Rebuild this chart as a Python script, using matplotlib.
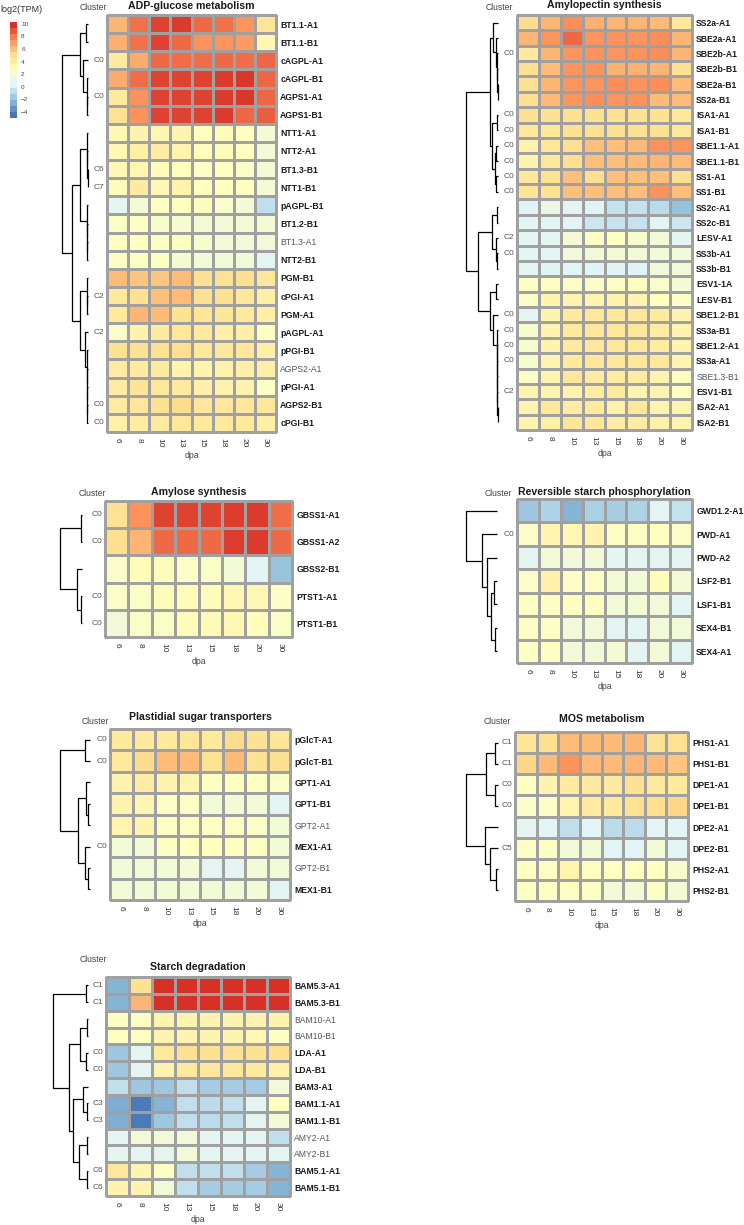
"""Starch metabolism gene expression heatmaps (log2 TPM) with row dendrograms."""

import numpy as np
import matplotlib
matplotlib.use("Agg")
import matplotlib.pyplot as plt
from matplotlib.colors import LinearSegmentedColormap, Normalize

plt.rcParams["font.family"] = ["Liberation Sans", "DejaVu Sans"]

W, H = 744, 1225
DPA = ["6", "8", "10", "13", "15", "18", "20", "30"]
VMIN, VMAX = -5.0, 10.3
CB_TICKS = [-4, -2, 0, 2, 4, 6, 8, 10]

# ---------------- ADP-glucose metabolism ----------------
ADP_GENES = ["BT1.1-A1", "BT1.1-B1", "cAGPL-A1", "cAGPL-B1", "AGPS1-A1", "AGPS1-B1",
             "NTT1-A1", "NTT2-A1", "BT1.3-B1", "NTT1-B1", "pAGPL-B1", "BT1.2-B1",
             "BT1.3-A1", "NTT2-B1", "PGM-B1", "cPGI-A1", "PGM-A1", "pAGPL-A1",
             "pPGI-B1", "AGPS2-A1", "pPGI-A1", "AGPS2-B1", "cPGI-B1"]
ADP_VALUES = [
    [6.5, 8.5, 9.8, 10.0, 8.7, 8.5, 7.5, 4.8],
    [6.7, 8.5, 9.8, 8.7, 7.6, 7.5, 7.3, 3.3],
    [4.3, 6.8, 8.7, 8.6, 8.6, 8.7, 8.6, 8.8],
    [6.8, 8.6, 9.8, 9.8, 9.8, 10.0, 10.1, 8.8],
    [4.5, 7.6, 9.8, 9.8, 9.8, 10.0, 10.1, 8.8],
    [5.0, 7.6, 9.8, 9.8, 9.8, 10.0, 8.8, 9.0],
    [3.2, 3.5, 3.4, 3.5, 2.8, 2.9, 2.7, 1.6],
    [3.2, 4.0, 4.2, 3.5, 2.8, 3.0, 2.7, 1.6],
    [3.2, 3.4, 3.0, 2.7, 2.5, 2.5, 2.3, 1.6],
    [3.0, 4.3, 3.3, 3.6, 2.7, 2.6, 2.6, 1.7],
    [0.5, 1.6, 2.5, 2.6, 2.8, 2.2, 1.7, -0.9],
    [2.3, 2.5, 2.0, 1.9, 1.7, 1.7, 1.7, 1.7],
    [2.5, 2.5, 2.5, 2.5, 2.0, 1.7, 1.5, 1.5],
    [2.4, 2.5, 2.5, 1.8, 1.6, 1.6, 1.5, 0.4],
    [6.3, 6.0, 6.0, 6.3, 5.0, 5.0, 5.2, 4.6],
    [4.5, 5.0, 6.2, 6.3, 5.0, 5.0, 4.6, 4.0],
    [4.5, 6.5, 6.3, 5.0, 4.8, 4.8, 4.5, 4.0],
    [2.2, 3.5, 4.3, 4.6, 4.4, 4.0, 4.0, 2.5],
    [5.0, 5.0, 5.0, 5.2, 4.6, 4.6, 4.6, 4.0],
    [4.3, 4.3, 4.3, 3.6, 3.6, 3.7, 4.0, 4.0],
    [4.2, 4.9, 4.6, 4.3, 3.8, 3.7, 3.7, 2.5],
    [4.3, 4.6, 5.0, 5.3, 4.6, 4.6, 4.6, 4.6],
    [3.8, 4.2, 4.3, 4.6, 4.5, 4.4, 4.5, 4.0],
]
ADP_CLUSTERS = {2: "C0", 4: "C0", 8: "C6", 9: "C7", 15: "C2", 17: "C2", 21: "C0", 22: "C0"}
ADP_PLAIN = ["BT1.3-A1", "AGPS2-A1"]
ADP_TREE = (((0, 1, 0.08), (2, (3, (4, 5, 0.02), 0.04), 0.2), 0.31),
            (((6, (7, (8, 9, 0.01), 0.02), 0.03), (10, (11, (12, 13, 0.02), 0.03), 0.05), 0.31),
             ((14, (15, 16, 0.02), 0.05),
              (17, (18, (19, (20, (21, 22, 0.02), 0.03), 0.04), 0.05), 0.12), 0.31), 0.62), 1.0)

# ---------------- Amylopectin synthesis ----------------
AMP_GENES = ["SS2a-A1", "SBE2a-A1", "SBE2b-A1", "SBE2b-B1", "SBE2a-B1", "SS2a-B1",
             "ISA1-A1", "ISA1-B1", "SBE1.1-A1", "SBE1.1-B1", "SS1-A1", "SS1-B1",
             "SS2c-A1", "SS2c-B1", "LESV-A1", "SS3b-A1", "SS3b-B1", "ESV1-1A",
             "LESV-B1", "SBE1.2-B1", "SS3a-B1", "SBE1.2-A1", "SS3a-A1", "SBE1.3-B1",
             "ESV1-B1", "ISA2-A1", "ISA2-B1"]
AMP_VALUES = [
    [5.3, 6.5, 7.7, 6.6, 6.5, 6.5, 6.3, 4.6],
    [6.5, 7.5, 8.8, 7.5, 7.6, 7.5, 7.7, 6.5],
    [4.3, 6.5, 7.5, 7.6, 7.5, 7.6, 7.7, 6.5],
    [5.2, 6.3, 7.5, 7.6, 6.6, 6.6, 6.5, 5.0],
    [5.0, 6.5, 7.5, 7.5, 7.7, 7.6, 7.7, 6.3],
    [5.2, 6.4, 7.5, 7.7, 7.5, 7.6, 6.3, 6.3],
    [5.0, 5.0, 5.2, 5.0, 5.0, 5.0, 5.0, 4.6],
    [4.6, 4.6, 5.0, 5.0, 5.0, 5.0, 5.0, 4.6],
    [3.7, 4.6, 5.2, 6.2, 6.2, 6.4, 7.6, 7.5],
    [3.5, 4.6, 5.2, 6.2, 6.2, 6.3, 6.5, 6.3],
    [4.6, 5.0, 6.2, 5.2, 6.2, 6.2, 6.2, 5.2],
    [4.8, 5.0, 6.2, 6.2, 6.2, 6.2, 7.6, 6.2],
    [0.2, 1.0, 0.3, 0.2, -0.8, -0.8, -1.1, -2.3],
    [0.3, 0.3, 0.3, -0.6, -0.7, -0.7, 0.3, -0.6],
    [0.4, 0.4, 1.7, 2.5, 2.6, 2.0, 1.5, 0.4],
    [0.3, 0.3, 1.5, 1.6, 1.6, 1.6, 1.6, 1.5],
    [0.4, 0.2, 0.3, 0.2, 0.2, 0.2, 1.5, 1.5],
    [2.5, 2.5, 2.3, 2.3, 2.5, 2.5, 2.2, 1.7],
    [2.3, 3.5, 3.5, 3.6, 3.6, 3.5, 2.7, 2.4],
    [0.4, 3.5, 4.5, 4.6, 4.6, 4.6, 4.5, 3.5],
    [2.0, 3.5, 4.5, 4.6, 4.6, 4.6, 4.2, 3.5],
    [2.0, 3.5, 4.5, 4.6, 4.6, 4.5, 4.2, 3.5],
    [2.0, 3.5, 4.5, 4.6, 4.6, 4.6, 4.6, 3.5],
    [2.3, 3.6, 4.6, 4.2, 4.2, 4.2, 3.5, 2.5],
    [3.5, 3.5, 3.5, 4.2, 4.5, 3.5, 3.5, 2.5],
    [3.5, 4.6, 4.2, 4.5, 3.8, 4.6, 3.6, 3.5],
    [3.6, 4.0, 4.7, 4.6, 4.2, 4.2, 3.8, 3.6],
]
AMP_CLUSTERS = {2: "C0", 6: "C0", 7: "C0", 8: "C0", 9: "C0", 10: "C0", 11: "C0",
                14: "C2", 15: "C0", 19: "C0", 20: "C0", 21: "C0", 22: "C0", 24: "C2"}
AMP_PLAIN = ["SBE1.3-B1"]
AMP_TREE = (((0, (1, (2, (3, (4, 5, 0.01), 0.02), 0.03), 0.06), 0.16),
             ((6, 7, 0.04), ((8, 9, 0.05), (10, 11, 0.05), 0.1), 0.19), 0.25),
            (((12, 13, 0.04), (14, (15, 16, 0.02), 0.06), 0.2),
             ((17, 18, 0.06),
              (19, (20, (21, (22, (23, (24, (25, 26, 0.01), 0.02), 0.02), 0.03), 0.03), 0.04), 0.15),
              0.25), 0.62), 1.0)

# ---------------- Amylose synthesis ----------------
AMY_GENES = ["GBSS1-A1", "GBSS1-A2", "GBSS2-B1", "PTST1-A1", "PTST1-B1"]
AMY_VALUES = [
    [5.0, 7.6, 9.8, 9.8, 9.8, 9.9, 10.0, 8.6],
    [5.2, 6.5, 8.7, 8.7, 8.7, 9.9, 10.0, 8.7],
    [2.2, 3.0, 2.9, 2.4, 2.3, 1.6, 0.3, -2.2],
    [2.3, 2.3, 2.9, 3.0, 3.0, 3.3, 3.3, 2.4],
    [1.5, 2.3, 2.3, 3.0, 3.1, 3.3, 2.8, 2.3],
]
AMY_CLUSTERS = {0: "C0", 1: "C0", 3: "C0", 4: "C0"}
AMY_PLAIN = []
AMY_TREE = ((0, 1, 0.04), (2, (3, 4, 0.04), 0.23), 1.0)

# ---------------- Reversible starch phosphorylation ----------------
RSP_GENES = ["GWD1.2-A1", "PWD-A1", "PWD-A2", "LSF2-B1", "LSF1-B1", "SEX4-B1", "SEX4-A1"]
RSP_VALUES = [
    [-2.0, -1.5, -2.8, -1.6, -1.7, -1.5, 0.3, -0.8],
    [2.2, 3.5, 3.3, 3.5, 2.5, 2.5, 2.6, 2.3],
    [0.4, 1.5, 1.5, 1.5, 0.5, 0.4, 0.4, 0.4],
    [2.2, 3.8, 2.4, 2.4, 1.6, 1.6, 3.0, 1.6],
    [2.5, 2.4, 2.5, 2.5, 1.6, 1.6, 1.5, 0.3],
    [2.4, 2.4, 1.5, 1.5, 0.4, 0.4, 1.5, 1.5],
    [2.4, 2.5, 1.5, 1.5, 1.7, 0.4, 1.6, 0.3],
]
RSP_CLUSTERS = {1: "C0"}
RSP_PLAIN = []
RSP_TREE = (0, (1, (2, ((3, 4, 0.1), (5, 6, 0.05), 0.2), 0.32), 0.48), 1.0)

# ---------------- Plastidial sugar transporters ----------------
PST_GENES = ["pGlcT-A1", "pGlcT-B1", "GPT1-A1", "GPT1-B1", "GPT2-A1", "MEX1-A1", "GPT2-B1", "MEX1-B1"]
PST_VALUES = [
    [4.5, 4.5, 4.5, 4.7, 4.5, 5.3, 5.0, 4.7],
    [4.5, 5.3, 6.3, 6.3, 5.0, 6.3, 5.0, 5.2],
    [3.5, 4.2, 3.5, 3.5, 2.5, 2.5, 2.5, 2.3],
    [3.5, 3.4, 2.4, 2.4, 1.6, 1.7, 1.6, 0.3],
    [3.6, 3.6, 2.5, 2.5, 2.5, 2.5, 2.3, 1.6],
    [1.6, 1.6, 2.5, 2.6, 2.6, 2.6, 2.5, 1.6],
    [1.6, 1.6, 1.6, 1.6, 0.4, 0.4, 1.6, 1.6],
    [1.6, 1.6, 1.6, 1.6, 1.6, 1.6, 1.6, 0.4],
]
PST_CLUSTERS = {0: "C0", 1: "C0", 5: "C0"}
PST_PLAIN = ["GPT2-A1", "GPT2-B1"]
PST_TREE = ((0, 1, 0.17), ((2, (3, 4, 0.07), 0.13), (5, (6, 7, 0.07), 0.17), 0.4), 1.0)

# ---------------- MOS metabolism ----------------
MOS_GENES = ["PHS1-A1", "PHS1-B1", "DPE1-A1", "DPE1-B1", "DPE2-A1", "DPE2-B1", "PHS2-A1", "PHS2-B1"]
MOS_VALUES = [
    [4.8, 5.2, 6.3, 6.3, 6.3, 6.5, 5.0, 5.0],
    [5.5, 6.4, 7.6, 6.4, 6.4, 6.5, 6.3, 6.0],
    [2.5, 3.5, 4.3, 4.3, 4.3, 5.0, 4.5, 4.5],
    [2.2, 2.4, 3.5, 4.3, 4.5, 5.0, 5.2, 5.5],
    [0.4, 0.3, -0.9, 0.3, -1.0, -1.0, 0.3, 0.3],
    [2.4, 2.4, 1.6, 1.6, 0.3, 0.3, 1.6, 0.3],
    [2.5, 2.5, 3.5, 2.5, 2.6, 2.6, 2.6, 2.0],
    [2.5, 2.5, 2.5, 2.5, 1.6, 1.7, 2.5, 1.7],
]
MOS_CLUSTERS = {0: "C1", 1: "C1", 2: "C0", 3: "C0", 5: "C5"}
MOS_PLAIN = []
MOS_TREE = (((0, 1, 0.1), (2, 3, 0.1), 0.38), (4, (5, (6, 7, 0.06), 0.25), 0.4), 1.0)

# ---------------- Starch degradation ----------------
DEG_GENES = ["BAM5.3-A1", "BAM5.3-B1", "BAM10-A1", "BAM10-B1", "LDA-A1", "LDA-B1", "BAM3-A1",
             "BAM1.1-A1", "BAM1.1-B1", "AMY2-A1", "AMY2-B1", "BAM5.1-A1", "BAM5.1-B1"]
DEG_VALUES = [
    [-2.8, 5.0, 10.4, 10.4, 10.4, 10.4, 10.4, 10.4],
    [-2.8, 6.5, 10.4, 10.4, 10.4, 10.4, 10.4, 10.4],
    [2.5, 2.5, 3.5, 3.5, 3.5, 3.5, 3.5, 3.5],
    [2.5, 2.5, 3.5, 3.5, 3.5, 3.5, 3.3, 2.5],
    [-2.0, 0.4, 4.5, 5.0, 5.0, 5.0, 5.0, 5.2],
    [-2.0, 0.4, 3.5, 4.5, 4.6, 4.6, 4.5, 3.8],
    [-0.9, -2.0, -2.0, -0.9, -1.8, -1.8, -1.8, 1.5],
    [-3.0, -4.8, -2.8, -0.9, -1.0, -0.9, 0.4, 2.6],
    [-3.0, -4.8, -2.0, -0.9, -1.0, -0.9, 0.4, 1.6],
    [0.4, 1.5, 1.5, 1.5, 0.4, 0.4, 0.4, -0.9],
    [0.4, 0.4, 0.4, 1.5, 0.4, 0.4, 0.4, 0.4],
    [4.6, 3.5, 2.5, -0.9, -0.9, -0.9, -1.8, -2.8],
    [3.5, 3.5, 1.5, -0.9, -1.8, -1.8, -1.8, -2.8],
]
DEG_CLUSTERS = {0: "C1", 1: "C1", 4: "C0", 5: "C0", 7: "C3", 8: "C3", 11: "C6", 12: "C6"}
DEG_PLAIN = ["BAM10-A1", "BAM10-B1", "AMY2-A1", "AMY2-B1"]
DEG_TREE = ((0, 1, 0.05),
            (((2, 3, 0.04), (4, 5, 0.06), 0.23),
             ((6, (7, 8, 0.04), 0.14), ((9, 10, 0.04), (11, 12, 0.04), 0.26), 0.43), 0.54), 1.0)

CMAP = LinearSegmentedColormap.from_list(
    "rdylbu7", ["#4575B4", "#91BFDB", "#E0F3F8", "#FFFFBF", "#FEE090", "#FC8D59", "#D73027"])
NORM = Normalize(VMIN, VMAX)


def px_axes(fig, x0, y0, x1, y1):
    return fig.add_axes([x0 / W, 1 - y1 / H, (x1 - x0) / W, (y1 - y0) / H])


def draw_tree(ax, node):
    # node is a leaf index or (left, right, height); returns (y, height)
    if isinstance(node, int):
        return node + 0.5, 0.0
    a, b, h = node
    ya, ha = draw_tree(ax, a)
    yb, hb = draw_tree(ax, b)
    ax.plot([ha, h, h, hb], [ya, ya, yb, yb], color="black", lw=0.9,
            solid_capstyle="butt", clip_on=False)
    return (ya + yb) / 2, h


def draw_panel(fig, title, genes, values, clusters, plain, tree, box, dendro_x, title_y, cluster_xy):
    x0, y0, x1, y1 = box
    vals = np.array(values)
    n, m = vals.shape

    ax = px_axes(fig, x0, y0, x1, y1)
    mesh = ax.pcolormesh(np.arange(m + 1), np.arange(n + 1), vals, cmap=CMAP, norm=NORM,
                         edgecolors="#a0a0a0", linewidth=0.85)
    mesh.set_clip_on(False)
    ax.set_xlim(0, m)
    ax.set_ylim(n, 0)
    for s in ax.spines.values():
        s.set_visible(False)
    ax.set_xticks(np.arange(m) + 0.5)
    ax.set_xticklabels(DPA, rotation=270, fontsize=6, color="#333333")
    ax.tick_params(axis="x", length=0, pad=4)
    ax.yaxis.tick_right()
    ax.set_yticks(np.arange(n) + 0.5)
    ax.set_yticklabels(genes, fontsize=6.2)
    ax.tick_params(axis="y", length=0, pad=3)
    for lab in ax.get_yticklabels():
        if lab.get_text() in plain:
            lab.set_color("#555555")
        else:
            lab.set_fontweight("bold")
            lab.set_color("#1a1a1a")

    for r, c in clusters.items():
        ax.annotate(c, xy=(0, r + 0.5), xycoords=("axes fraction", "data"), xytext=(-2, 0),
                    textcoords="offset points", ha="right", va="center",
                    fontsize=6, color="#555555")

    fig.text((x0 + x1) / 2 / W, 1 - title_y / H, title, ha="center", va="center",
             fontsize=7.6, fontweight="bold", color="#1a1a1a")
    fig.text(cluster_xy[0] / W, 1 - cluster_xy[1] / H, "Cluster", ha="center", va="center",
             fontsize=6.2, color="#444444")
    fig.text((x0 + x1) / 2 / W, 1 - (y1 + 24) / H, "dpa", ha="center", va="center",
             fontsize=6.3, color="#444444")

    dax = px_axes(fig, dendro_x[0], y0, dendro_x[1], y1)
    dax.set_xlim(1, 0)
    dax.set_ylim(n, 0)
    dax.axis("off")
    draw_tree(dax, tree)


def main() -> None:
    fig = plt.figure(figsize=(W / 100, H / 100), dpi=100)

    panels = [
        ("ADP-glucose metabolism", ADP_GENES, ADP_VALUES, ADP_CLUSTERS, ADP_PLAIN, ADP_TREE,
         (107, 15, 276, 432), (62, 88), 6, (93, 7)),
        ("Amylopectin synthesis", AMP_GENES, AMP_VALUES, AMP_CLUSTERS, AMP_PLAIN, AMP_TREE,
         (517, 15, 692, 430), (466, 498), 5, (499, 8)),
        ("Amylose synthesis", AMY_GENES, AMY_VALUES, AMY_CLUSTERS, AMY_PLAIN, AMY_TREE,
         (105, 501, 292, 637), (60, 82), 492, (92, 494)),
        ("Reversible starch phosphorylation", RSP_GENES, RSP_VALUES, RSP_CLUSTERS, RSP_PLAIN, RSP_TREE,
         (517, 499, 692, 663), (466, 497), 492, (498, 494)),
        ("Plastidial sugar transporters", PST_GENES, PST_VALUES, PST_CLUSTERS, PST_PLAIN, PST_TREE,
         (110, 729, 290, 900), (60, 90), 717, (95, 721)),
        ("MOS metabolism", MOS_GENES, MOS_VALUES, MOS_CLUSTERS, MOS_PLAIN, MOS_TREE,
         (515, 732, 688, 901), (466, 498), 719, (497, 722)),
        ("Starch degradation", DEG_GENES, DEG_VALUES, DEG_CLUSTERS, DEG_PLAIN, DEG_TREE,
         (106, 977, 290, 1196), (53, 88), 967, (93, 960)),
    ]
    for p in panels:
        draw_panel(fig, *p)

    # Shared colour legend
    cax = px_axes(fig, 10, 22, 17, 118)
    sm = plt.cm.ScalarMappable(norm=NORM, cmap=CMAP.resampled(16))
    cb = fig.colorbar(sm, cax=cax, ticks=CB_TICKS)
    cb.outline.set_visible(False)
    cax.tick_params(length=0, labelsize=4.6, colors="#444444", pad=3)
    fig.text(0, 1 - 10 / H, "log2(TPM)", ha="left", va="center", fontsize=6.5, color="#333333")

    fig.savefig("out.png", dpi=100, facecolor="white")


if __name__ == "__main__":
    main()
